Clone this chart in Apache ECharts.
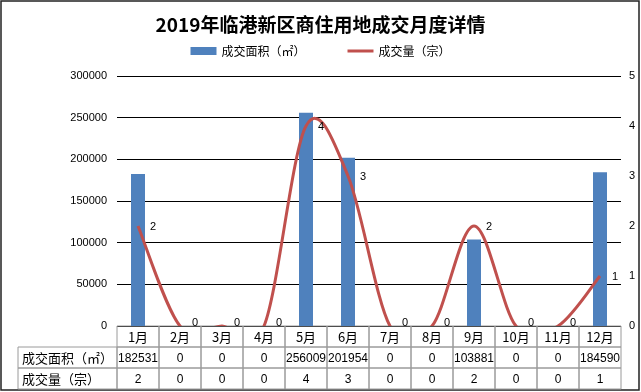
<!DOCTYPE html>
<html>
<head>
<meta charset="utf-8">
<script src="https://cdn.jsdelivr.net/npm/echarts@6/dist/echarts.min.js"></script>
<style>html,body{margin:0;padding:0;background:#fff}#c{width:641px;height:392px}</style>
</head>
<body>
<div id="c"></div>
<script>
var months = ['1月','2月','3月','4月','5月','6月','7月','8月','9月','10月','11月','12月'];
var areaValues = [182531, 0, 0, 0, 256009, 201954, 0, 0, 103881, 0, 0, 184590];
var countValues = [2, 0, 0, 0, 4, 3, 0, 0, 2, 0, 0, 1];
var rowNames = ['', '成交面积（㎡）', '成交量（宗）'];
var areaName = '成交面积（㎡）';
var countName = '成交量（宗）';

var FONT = '"Liberation Sans","Noto Sans CJK SC",sans-serif';
var CJK = '"Noto Sans CJK SC","Liberation Sans",sans-serif';
var LABEL_W = 99;

// table cells
var cells = [];
months.forEach(function (m, i) {
  cells.push({value: [i, 0], text: m, font: '13px ' + CJK});
  cells.push({value: [i, 1], text: String(areaValues[i]), font: '12px ' + FONT});
  cells.push({value: [i, 2], text: String(countValues[i]), font: '12px ' + FONT});
});
cells.push({value: [0, 1], text: rowNames[1], font: '13px ' + CJK, isLabel: true});
cells.push({value: [0, 2], text: rowNames[2], font: '13px ' + CJK, isLabel: true});

var countPoints = countValues.map(function (v, i) { return [i, v]; });

// Excel-style smoothed line (Catmull-Rom bezier through the data points, via axis coords)
function renderCountLine(params, api) {
  var children = [];
  if (params.dataIndex === 0) {
    var pts = countValues.map(function (v, i) { return api.coord([i, v]); });
    var n = pts.length;
    var d = 'M' + pts[0][0] + ',' + pts[0][1];
    for (var i = 0; i < n - 1; i++) {
      var p0 = pts[Math.max(i - 1, 0)], p1 = pts[i], p2 = pts[i + 1], p3 = pts[Math.min(i + 2, n - 1)];
      var c1x = p1[0] + (p2[0] - p0[0]) / 6, c1y = p1[1] + (p2[1] - p0[1]) / 6;
      var c2x = p2[0] - (p3[0] - p1[0]) / 6, c2y = p2[1] - (p3[1] - p1[1]) / 6;
      d += 'C' + c1x + ',' + c1y + ' ' + c2x + ',' + c2y + ' ' + p2[0] + ',' + p2[1];
    }
    children.push({type: 'path', shape: {pathData: d},
      style: {fill: 'none', stroke: '#C0504D', lineWidth: 3}});
  }
  return {type: 'group', children: children};
}
function renderCountLabel(params, api) {
  var c = api.coord([api.value(0), api.value(1)]);
  var base = api.coord([0, 0])[1];
  return {type: 'text', style: {text: String(api.value(1)), x: c[0] + 12,
    y: Math.min(c[1] + 1, base - 3),
    align: 'left', verticalAlign: 'middle', font: '11px ' + FONT, fill: '#000'}};
}

var chart = echarts.init(document.getElementById('c'));
chart.setOption({
  backgroundColor: '#fff',
  animation: false,
  title: {
    text: '2019年临港新区商住用地成交月度详情',
    left: 'center', top: 10,
    textStyle: {fontFamily: CJK, fontSize: 19, fontWeight: 'bold', color: '#000'}
  },
  legend: {
    top: 40, left: 'center', itemGap: 42, itemWidth: 26, itemHeight: 8,
    textStyle: {fontFamily: CJK, fontSize: 12, color: '#000'},
    data: [{name: areaName, icon: 'rect'},
           {name: countName, icon: 'path://M0,0H26V3H0Z'}]
  },
  grid: [
    {left: 117, right: 20, top: 76, height: 250},
    {left: 117, right: 20, top: 326, height: 63}
  ],
  xAxis: [
    {type: 'category', data: months, gridIndex: 0, boundaryGap: true,
     axisLine: {show: false}, axisTick: {show: false}, axisLabel: {show: false}},
    {type: 'category', data: months, gridIndex: 1, boundaryGap: true,
     axisLine: {show: false}, axisTick: {show: false}, axisLabel: {show: false}}
  ],
  yAxis: [
    {type: 'value', gridIndex: 0, min: 0, max: 300000, interval: 50000,
     axisLine: {show: false}, axisTick: {show: false},
     axisLabel: {fontFamily: FONT, fontSize: 11, color: '#000', margin: 10,
                 formatter: function (v) { return String(v); }},
     splitLine: {lineStyle: {color: '#000', width: 1}}},
    {type: 'value', gridIndex: 0, min: 0, max: 5, interval: 1, position: 'right',
     axisLine: {show: false}, axisTick: {show: false},
     axisLabel: {fontFamily: FONT, fontSize: 11, color: '#000', margin: 8},
     splitLine: {show: false}},
    {type: 'category', gridIndex: 1, data: rowNames, inverse: true,
     axisLine: {show: false}, axisTick: {show: false}, axisLabel: {show: false}}
  ],
  series: [
    {name: areaName, type: 'bar', xAxisIndex: 0, yAxisIndex: 0, data: areaValues,
     barWidth: 14, z: 2, itemStyle: {color: '#4F81BD'}},
    {name: countName, type: 'custom', xAxisIndex: 0, yAxisIndex: 1, data: countPoints,
     clip: true, z: 5, itemStyle: {color: '#C0504D'}, renderItem: renderCountLine},
    {name: countName, type: 'custom', xAxisIndex: 0, yAxisIndex: 1, data: countPoints,
     clip: false, z: 6, itemStyle: {color: '#C0504D'}, renderItem: renderCountLabel},
    {type: 'custom', xAxisIndex: 1, yAxisIndex: 2, data: cells, clip: false,
     renderItem: function (params, api) {
       var cell = cells[params.dataIndex];
       var c = api.coord([api.value(0), api.value(1)]);
       var s = api.size([1, 1]);
       var x = c[0] - s[0] / 2, w = s[0];
       if (cell.isLabel) { w = LABEL_W; x = x - LABEL_W; }
       var y = c[1] - s[1] / 2;
       return {
         type: 'group',
         children: [
           {type: 'rect', shape: {x: x, y: y, width: w, height: s[1]},
            style: {fill: 'none', stroke: '#9a9a9a', lineWidth: 1}},
           {type: 'text',
            style: {text: cell.text, x: cell.isLabel ? x + 4 : x + w / 2, y: c[1] + 1,
                    align: cell.isLabel ? 'left' : 'center', verticalAlign: 'middle',
                    font: cell.font, fill: '#000'}}
         ]
       };
     }}
  ],
  graphic: [
    {type: 'rect', shape: {x: 1, y: 1, width: 638, height: 389}, silent: true,
     style: {fill: 'none', stroke: '#222', lineWidth: 1.5}}
  ]
});
</script>
</body>
</html>
